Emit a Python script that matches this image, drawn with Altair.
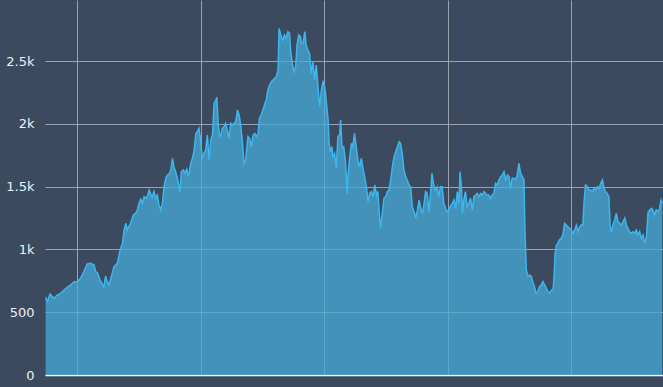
import altair as alt
import pandas as pd

START = "2012-09-28"

days1 = [2,7,15,22,27,36,46,56,66,76,86,96,105,115,125,135,145,150,155,165,
         174,179,184,189,194,204,214,222,229,234,239,243,248,253,261,268,273,278,283,288,
         293,298,303,308,312,317,322,327,332,337,342,347,352,357,362,367,372,377,381,386,
         391,396,399,403,409,413,419,424,431,436,441,446,450,455,460,465,470,475,480,485,
         490,495,500,505,508,512,515,519,524,529,534,539,544,549,554,559,564,569,574,579,
         584,588,593]
vals1 = [618,584,645,624,610,637,650,677,698,717,743,743,770,823,884,889,876,823,815,743,
         703,788,743,717,762,863,889,995,1048,1155,1208,1155,1181,1208,1274,1287,1314,1367,1399,1367,
         1420,1407,1425,1473,1446,1415,1460,1407,1433,1354,1314,1367,1500,1566,1592,1600,1632,1725,1659,1619,
         1574,1500,1460,1619,1632,1606,1638,1579,1685,1725,1791,1924,1937,1964,1871,1725,1765,1791,1911,1712,
         1871,1911,2163,2190,2211,2004,1924,1898,1964,1977,2004,1951,1884,2004,1990,2004,2017,2110,2070,1977,
         1845,1685,1712]

days2 = [600,605,610,615,620,625,630,634,639,644,649,654,659,664,669,674,679,684,689,692,
         696,699,703,708,713,718,723,726,731,736,741,745,750,755,758,763,768,772,777,782,
         787,792,797,802,807,812,817,822,827,832,837,840,844,848,851,856,861,866,871,874,
         878,883,888,893,896,901,906,910,915,920,925,930,935,940,945,950,955,960,965,970,
         975,980,984,989,992,997,1002,1007,1012,1017,1022,1027,1032,1037,1042,1047,1051,1056,1061,1066,
         1071,1076,1081,1086,1091,1096,1101,1106,1111,1116,1120,1125,1130,1135,1140,1144,1149,1154,1159,1164,
         1169,1174,1179,1184,1188,1193,1198]
vals2 = [1898,1884,1818,1911,1924,1898,1924,2044,2070,2110,2150,2190,2269,2309,2335,2349,2362,2375,2428,2760,
         2720,2694,2667,2707,2680,2734,2720,2588,2481,2415,2455,2627,2707,2694,2641,2641,2734,2627,2588,2561,
         2402,2495,2349,2468,2296,2136,2269,2335,2296,2163,2030,1845,1778,1818,1738,1765,1646,1898,1911,2030,
         1818,1818,1712,1446,1606,1738,1845,1818,1924,1818,1712,1659,1725,1646,1579,1499,1380,1446,1460,1420,
         1513,1433,1460,1260,1168,1287,1407,1420,1460,1473,1553,1659,1738,1778,1818,1858,1845,1765,1632,1579,
         1553,1513,1499,1340,1300,1248,1314,1393,1327,1287,1354,1460,1446,1300,1446,1606,1513,1473,1499,1420,
         1499,1499,1367,1327,1300,1314,1340]

days3 = [1204,1209,1214,1219,1224,1227,1231,1234,1238,1243,1248,1253,1258,1263,1268,1273,1278,1283,1288,1293,
         1298,1303,1307,1312,1317,1322,1327,1332,1337,1342,1347,1352,1357,1362,1367,1372,1376,1381,1386,1391,
         1396,1401,1406,1411,1416,1419,1423,1428,1433,1438,1443,1447,1452,1457,1462,1467,1472,1477,1482,1487,
         1492,1497,1502,1505,1508,1512,1516,1521,1526,1531,1536,1541,1546,1551,1556,1561,1566,1571,1576,1581,
         1585,1590,1594,1598,1603,1608,1613,1618,1623,1628,1633,1638,1643,1648,1653,1657,1662,1667,1671,1675,
         1679,1684,1689,1694,1699,1704,1709,1714,1719,1723,1728,1733,1738,1743,1748,1753,1758,1763,1768,1773,
         1778,1783,1788,1793,1797,1802,1807,1812,1817,1821,1825]
vals3 = [1367,1393,1327,1460,1367,1619,1499,1287,1393,1460,1340,1367,1407,1314,1420,1433,1446,1420,1446,1433,
         1460,1446,1433,1433,1407,1433,1446,1526,1513,1553,1579,1592,1619,1553,1592,1579,1486,1566,1566,1553,
         1592,1685,1606,1579,1553,1128,836,783,796,783,730,703,650,663,703,717,743,717,690,663,
         650,677,677,783,969,1035,1048,1075,1088,1115,1208,1194,1181,1168,1155,1128,1155,1194,1141,1181,
         1194,1194,1393,1513,1499,1473,1473,1460,1486,1473,1499,1486,1526,1553,1486,1460,1446,1420,1181,1141,
         1194,1234,1287,1221,1208,1194,1221,1248,1194,1168,1141,1128,1141,1128,1155,1115,1141,1088,1115,1048,
         1101,1300,1314,1327,1314,1274,1314,1300,1327,1393,1367]

year_ticks = [2013, 2014, 2015, 2016, 2017]
y_ticks = [0, 500, 1000, 1500, 2000, 2500]

days = days1 + days2 + days3
vals = vals1 + vals2 + vals3
dates = (pd.Timestamp(START) + pd.to_timedelta(days, unit="D")).strftime("%Y-%m-%d")
df = pd.DataFrame({"date": dates, "value": vals})

BG = "#3b4a5e"

x_enc = alt.X(
    "date:T",
    scale=alt.Scale(type="utc",
                    domain=[alt.DateTime(year=2012, month=9, date=28, utc=True),
                            alt.DateTime(year=2017, month=9, date=29, utc=True)]),
    axis=alt.Axis(title=None, labels=False, ticks=False, domain=True,
                  domainColor="#ffffff", domainWidth=1.5,
                  grid=True, gridColor="#9aa3ae", gridWidth=1,
                  values=[alt.DateTime(year=y, month=1, date=1, utc=True) for y in year_ticks]),
)
y_enc = alt.Y(
    "value:Q",
    scale=alt.Scale(domain=[0, 2986], nice=False, zero=True),
    axis=alt.Axis(title=None, values=y_ticks,
                  labelExpr="datum.value < 1000 ? format(datum.value, 'd') : format(datum.value / 1000, '~g') + 'k'",
                  ticks=False, domain=False,
                  grid=True, gridColor="#9aa3ae", gridWidth=1,
                  labelColor="#eef1f5", labelFont="DejaVu Sans", labelFontSize=13,
                  labelPadding=11),
)

area = alt.Chart(df).mark_area(color="#46abda", fillOpacity=0.75, interpolate="linear").encode(
    x=x_enc, y=y_enc
)
line = alt.Chart(df).mark_line(color="#3db6ee", strokeWidth=1.5).encode(
    x=alt.X("date:T"), y=alt.Y("value:Q")
)

chart = alt.layer(area, line).properties(
    width=618, height=375,
    background=BG,
    padding={"left": 45, "top": 0, "right": 0, "bottom": 12},
    autosize=alt.AutoSizeParams(type="none"),
).configure_view(stroke=None)

chart.save("out.html", embed_options={"renderer": "svg", "actions": False})
